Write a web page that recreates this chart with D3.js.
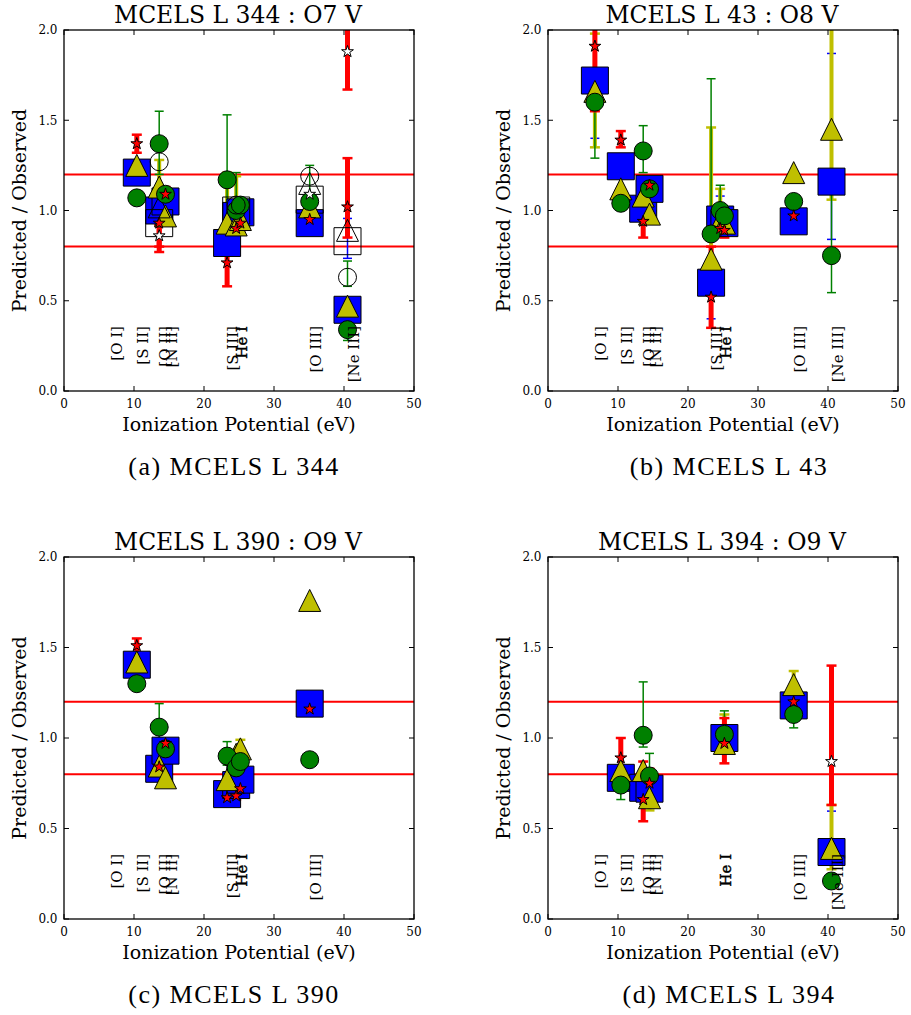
<!DOCTYPE html>
<html><head><meta charset="utf-8">
<script src="https://cdn.jsdelivr.net/npm/d3@7"></script>
<style>body{margin:0;background:#fff}svg{display:block}
.f{font-family:"DejaVu Serif","Liberation Serif",serif}
.cap{font-family:"Liberation Serif",serif}</style>
</head><body>
<script>
// ---------------- DATA ----------------
const ions   = ["[O I]","[S II]","[O II]","[N II]","[S III]","He I","He I","[O III]","[Ne III]"];
const ionX   = [6.7, 10.4, 13.6, 14.5, 23.3, 24.6, 25.2, 35.1, 40.5];
const xTicks = [0, 10, 20, 30, 40, 50];
const yTicks = [0, 0.5, 1.0, 1.5, 2.0];
const yTickLabels = ["0.0","0.5","1.0","1.5","2.0"];
const limitLines = [0.8, 1.2];
const titles   = ["MCELS L 344 : O7 V","MCELS L 43 : O8 V","MCELS L 390 : O9 V","MCELS L 394 : O9 V"];
const captions = ["(a) MCELS L 344","(b) MCELS L 43","(c) MCELS L 390","(d) MCELS L 394"];
// which ion labels are printed in each panel (index into ions)
const labelsA = [0,1,2,3,4,5,7,8];
const labelsB = [0,1,2,3,4,5,7,8];
const labelsC = [0,1,2,3,4,5,7];
const labelsD = [0,1,2,3,5,7,8];

// Panel (a) MCELS L 344
const sqA    = [null,1.21,1.00,1.05,0.82,0.97,0.99,0.93,0.45];
const triA   = [null,1.25,1.13,0.97,0.93,0.92,0.95,1.02,0.47];
const circA  = [null,1.07,1.37,1.09,1.17,1.00,1.03,1.05,0.34];
const starA  = [null,1.37,0.93,1.09,0.71,0.90,0.93,0.95,1.02];
const osqA   = [null,null,0.93,null,null,1.00,null,1.06,0.83];
const otriA  = [null,null,1.02,null,null,null,null,1.15,0.89];
const ocircA = [null,null,1.27,null,null,1.03,null,1.19,0.63];
const ostarA = [null,null,0.86,null,null,null,null,1.09,1.88];
const triErrA   = [null,null,[1.05,1.28],null,[0.90,1.21],[0.88,1.19],null,null,null];
const circErrA  = [null,null,[1.20,1.55],null,[1.00,1.53],[0.95,1.21],null,[0.95,1.25],[0.28,0.40]];
const starErrA  = [null,[1.32,1.42],[0.77,1.00],[1.04,1.13],[0.58,0.76],[0.87,0.95],[0.89,0.97],[0.92,0.99],[0.85,1.29]];
const osqErrA   = [null,null,null,null,null,null,null,null,[0.735,0.956]];
const ocircErrA = [null,null,null,null,null,null,null,null,[0.58,0.72]];
const ostarErrA = [null,null,[0.80,0.92],null,null,null,null,null,[1.67,2.20]];

// Panel (b) MCELS L 43
const sqB    = [1.72,1.245,1.01,1.12,0.60,0.95,0.93,0.94,1.16];
const triB   = [1.66,1.12,1.08,0.98,0.73,0.94,0.93,1.21,1.45];
const circB  = [1.60,1.04,1.33,1.12,0.87,1.00,0.97,1.05,0.75];
const starB  = [1.91,1.39,0.94,1.14,0.52,0.90,0.89,0.97,null];
const sqErrB   = [[1.40,2.05],null,null,null,[0.40,0.58],[0.90,1.08],null,null,[0.84,1.87]];
const triErrB  = [[1.35,1.98],null,null,null,[0.70,1.46],[0.90,1.12],null,null,[1.06,2.20]];
const circErrB = [[1.29,1.75],null,[1.21,1.47],null,[0.85,1.73],[0.95,1.14],null,null,[0.545,1.20]];
const starErrB = [[1.55,2.20],[1.35,1.44],[0.85,1.00],[1.10,1.17],[0.35,0.80],[0.86,0.96],[0.85,0.93],[0.95,1.00],null];

// Panel (c) MCELS L 390
const sqC    = [null,1.405,0.83,0.93,0.69,0.74,0.77,1.19,null];
const triC   = [null,1.42,0.845,0.78,0.77,0.91,0.94,1.76,null];
const circC  = [null,1.30,1.06,0.94,0.90,0.835,0.87,0.88,null];
const starC  = [null,1.51,0.84,0.97,0.67,0.68,0.72,1.16,null];
const triErrC  = [null,null,null,null,null,null,[0.90,0.99],null,null];
const circErrC = [null,null,[1.00,1.19],null,[0.85,0.98],null,null,null,null];
const starErrC = [null,[1.47,1.55],[0.82,0.87],null,null,[0.66,0.70],null,null,null];

// Panel (d) MCELS L 394
const sqD    = [null,0.78,0.725,0.72,null,null,1.00,1.18,0.37];
const triD   = [null,0.82,0.82,0.67,null,null,0.97,1.295,0.39];
const circD  = [null,0.74,1.015,0.79,null,null,1.02,1.13,0.21];
const starD  = [null,0.89,0.66,0.75,null,null,0.97,1.20,null];
const ostarD = [null,null,null,null,null,null,null,null,0.87];
const sqErrD   = [null,null,null,null,null,null,[0.93,1.07],null,[0.275,0.596]];
const triErrD  = [null,null,null,[0.60,0.75],null,null,[0.92,1.13],[1.25,1.37],[0.275,0.63]];
const circErrD = [null,[0.66,0.80],[0.95,1.31],[0.75,0.915],null,null,[0.95,1.15],[1.056,1.15],[0.18,0.25]];
const starErrD = [null,[0.80,1.00],[0.54,0.87],[0.70,0.83],null,null,[0.86,1.11],[1.17,1.23],null];
const ostarErrD = [null,null,null,null,null,null,null,null,[0.63,1.40]];

// ---------------- LAYOUT / STYLE ----------------
const boxes = [
  {l:64, r:414, t:30,  b:391, cap:234},
  {l:548,r:898, t:30,  b:391, cap:729},
  {l:64, r:414, t:557, b:919, cap:234},
  {l:548,r:898, t:557, b:919, cap:729}
];
const panels = [
  {labels:labelsA, series:{sq:sqA,osq:osqA,tri:triA,otri:otriA,circ:circA,ocirc:ocircA,star:starA,ostar:ostarA},
   errs:{tri:triErrA,circ:circErrA,star:starErrA,osq:osqErrA,ocirc:ocircErrA,ostar:ostarErrA}},
  {labels:labelsB, series:{sq:sqB,tri:triB,circ:circB,star:starB},
   errs:{sq:sqErrB,tri:triErrB,circ:circErrB,star:starErrB}},
  {labels:labelsC, series:{sq:sqC,tri:triC,circ:circC,star:starC},
   errs:{tri:triErrC,circ:circErrC,star:starErrC}},
  {labels:labelsD, series:{sq:sqD,tri:triD,circ:circD,star:starD,ostar:ostarD},
   errs:{sq:sqErrD,tri:triErrD,circ:circErrD,star:starErrD,ostar:ostarErrD}}
];
const COL = {blue:"#0000ff", yel:"#bfbf00", grn:"#008000", red:"#ff0000"};
const errStyle = {
  sq:{c:COL.blue,w:1.5}, osq:{c:COL.blue,w:1.5},
  tri:{c:COL.yel,w:4}, otri:{c:COL.yel,w:4},
  circ:{c:COL.grn,w:1.5}, ocirc:{c:COL.grn,w:1.5},
  star:{c:COL.red,w:5}, ostar:{c:COL.red,w:5}
};
const drawOrder = ["sq","osq","tri","otri","circ","ocirc","star","ostar"];

function starPath(R){
  const r = R*0.381966; let p=[];
  for(let i=0;i<10;i++){
    const a = -Math.PI/2 + i*Math.PI/5, rr = i%2?r:R;
    p.push([rr*Math.cos(a), rr*Math.sin(a)]);
  }
  return "M"+p.map(d=>d[0].toFixed(2)+","+d[1].toFixed(2)).join("L")+"Z";
}
const shapes = {
  sq:   {d:"M-13.5,-13.5H13.5V13.5H-13.5Z", fill:COL.blue},
  osq:  {d:"M-13.5,-13.5H13.5V13.5H-13.5Z", fill:"none"},
  tri:  {d:"M0,-11L11,11L-11,11Z", fill:COL.yel},
  otri: {d:"M0,-11L11,11L-11,11Z", fill:"none"},
  circ: {d:d3.symbol(d3.symbolCircle, Math.PI*81)(), fill:COL.grn},
  ocirc:{d:d3.symbol(d3.symbolCircle, Math.PI*81)(), fill:"none"},
  star: {d:starPath(6.2), fill:COL.red},
  ostar:{d:starPath(6.2), fill:"#fff"}
};

const svg = d3.select("body").append("svg").attr("width",911).attr("height",1015);

panels.forEach((P,pi)=>{
  const B = boxes[pi];
  const x = d3.scaleLinear().domain([0,50]).range([B.l,B.r]);
  const y = d3.scaleLinear().domain([0,2]).range([B.b,B.t]);
  const g = svg.append("g");
  const cid = "clip"+pi;
  svg.append("clipPath").attr("id",cid).append("rect")
    .attr("x",B.l).attr("y",B.t).attr("width",B.r-B.l).attr("height",B.b-B.t);
  const pg = g.append("g").attr("clip-path",`url(#${cid})`);

  limitLines.forEach(v=>{
    pg.append("line").attr("x1",B.l).attr("x2",B.r).attr("y1",y(v)).attr("y2",y(v))
      .attr("stroke",COL.red).attr("stroke-width",2);
  });

  drawOrder.forEach(k=>{
    const E = P.errs[k]; if(!E) return;
    const st = errStyle[k];
    E.forEach((e,i)=>{
      if(!e) return;
      const cx = x(ionX[i]);
      pg.append("line").attr("x1",cx).attr("x2",cx).attr("y1",y(e[0])).attr("y2",y(e[1]))
        .attr("stroke",st.c).attr("stroke-width",st.w);
      const cw = st.w>3?5:4.5, ct = st.w>3?2.5:1.5;
      [e[0],e[1]].forEach(v=>{
        pg.append("line").attr("x1",cx-cw).attr("x2",cx+cw).attr("y1",y(v)).attr("y2",y(v))
          .attr("stroke",st.c).attr("stroke-width",ct);
      });
    });
  });

  drawOrder.forEach(k=>{
    const S = P.series[k]; if(!S) return;
    const sh = shapes[k];
    S.forEach((v,i)=>{
      if(v===null) return;
      pg.append("path").attr("d",sh.d)
        .attr("transform",`translate(${x(ionX[i])},${y(v)})`)
        .attr("fill",sh.fill).attr("stroke","#000").attr("stroke-width",1);
    });
  });

  P.labels.forEach(i=>{
    const t = g.append("text").attr("class","f")
      .attr("transform",`translate(${x(ionX[i])+11},${y(0.36)}) rotate(-90)`)
      .attr("text-anchor","end").attr("font-size",15)
      .attr("fill","#000").text(ions[i]);
    if(ions[i]==="He I") t.attr("stroke","#000").attr("stroke-width",0.45);
  });

  g.append("rect").attr("x",B.l).attr("y",B.t).attr("width",B.r-B.l).attr("height",B.b-B.t)
    .attr("fill","none").attr("stroke","#000").attr("stroke-width",1.3);

  xTicks.forEach(t=>{
    const px = x(t);
    g.append("line").attr("x1",px).attr("x2",px).attr("y1",B.b).attr("y2",B.b-5).attr("stroke","#000");
    g.append("line").attr("x1",px).attr("x2",px).attr("y1",B.t).attr("y2",B.t+5).attr("stroke","#000");
    g.append("text").attr("class","f").attr("x",px).attr("y",B.b+16.5).attr("text-anchor","middle")
      .attr("font-size",12).text(t);
  });
  yTicks.forEach((t,i)=>{
    const py = y(t);
    g.append("line").attr("x1",B.l).attr("x2",B.l+5).attr("y1",py).attr("y2",py).attr("stroke","#000");
    g.append("line").attr("x1",B.r).attr("x2",B.r-5).attr("y1",py).attr("y2",py).attr("stroke","#000");
    g.append("text").attr("class","f").attr("x",B.l-6.5).attr("y",py).attr("dy","0.36em").attr("text-anchor","end")
      .attr("font-size",12).text(yTickLabels[i]);
  });

  const cx = (B.l+B.r)/2, cy=(B.t+B.b)/2;
  g.append("text").attr("class","f").attr("x",cx).attr("y",B.b+39.5).attr("text-anchor","middle")
    .attr("font-size",19).text("Ionization Potential (eV)");
  g.append("text").attr("class","f").attr("transform",`translate(${B.l-38},${cy}) rotate(-90)`).attr("text-anchor","middle")
    .attr("font-size",19).text("Predicted / Observed");
  g.append("text").attr("class","f").attr("x",cx-1).attr("y",B.t-7.5).attr("text-anchor","middle")
    .attr("font-size",23.5).text(titles[pi]);
  g.append("text").attr("class","cap").attr("x",B.cap).attr("y",B.b+84).attr("text-anchor","middle")
    .attr("font-size",26).attr("letter-spacing",1.5).text(captions[pi]);
});
</script>
</body></html>
